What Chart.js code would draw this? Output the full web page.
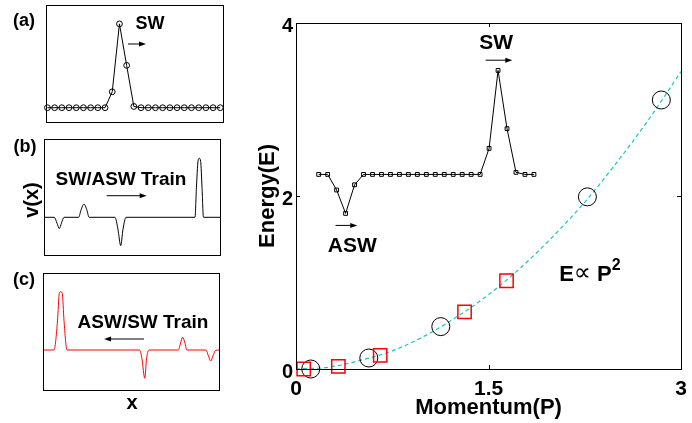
<!DOCTYPE html>
<html>
<head>
<meta charset="utf-8">
<script src="https://cdn.jsdelivr.net/npm/chart.js@4.4.1/dist/chart.umd.min.js"></script>
<style>
  html, body { margin: 0; padding: 0; background: #fff; }
  body { width: 692px; height: 423px; position: relative; overflow: hidden; }
  canvas { position: absolute; }
</style>
</head>
<body>
<canvas id="pa" style="left:0;top:0" width="230" height="130"></canvas>
<canvas id="pb" style="left:0;top:130px" width="230" height="132"></canvas>
<canvas id="pc" style="left:0;top:262px" width="230" height="161"></canvas>
<canvas id="main" style="left:250px;top:0" width="442" height="423"></canvas>
<script>
// ---- data ----

// (a) single SW on the lattice (site index, normalised amplitude)
const sitesA = [0, 1, 2, 3, 4, 5, 6, 7, 8, 9, 10, 11, 12, 13, 14, 15, 16, 17, 18, 19, 20, 21, 22, 23, 24];
const ampA = [0, 0, 0, 0, 0, 0, 0, 0, 0, 0.19, 1.0, 0.505, 0.015, 0, 0, 0, 0, 0, 0, 0, 0, 0, 0, 0, 0];

// (b) SW/ASW train, v(x)
const xB = [0, 5.85, 7.4, 8.7, 9.9, 11.4, 19.7, 21.0, 22.7, 24.4, 25.6, 40.3, 42.0, 43.6, 44.9, 46.6,
            85.8, 86.6, 87.5, 88.2, 89.0, 89.8, 90.6, 100];
const vB = [0, 0, -0.1, -0.19, -0.1, 0, 0, 0.12, 0.225, 0.12, 0, 0, -0.2, -0.48, -0.2, 0,
            0, 0.5, 0.95, 1.0, 0.95, 0.5, 0, 0];

// (c) ASW/SW train, v(x)
const xC = [0, 6.4, 8.4, 9.4, 10.3, 11.1, 12.1, 13.8, 54.9, 56.3, 57.9, 58.9, 60.3,
            77.0, 78.2, 79.4, 80.7, 81.8, 92.6, 94.0, 95.3, 96.6, 98.0, 100];
const vC = [0, 0, 0.5, 0.97, 1.0, 0.97, 0.5, 0, 0, -0.15, -0.485, -0.15, 0,
            0, 0.12, 0.218, 0.12, 0, 0, -0.1, -0.19, -0.1, -0.01, 0];

// main panel: energy vs momentum
const circleP = [0.115, 0.567, 1.128, 2.27, 2.846];
const circleE = [0.0, 0.127, 0.49, 1.99, 3.11];
const squareP = [0.06, 0.33, 0.656, 1.313, 1.64];
const squareE = [0.0, 0.03, 0.157, 0.66, 1.02];
// dashed E ~ P^2 guide
const fitP = [0, 0.25, 0.5, 0.75, 1, 1.25, 1.5, 1.75, 2, 2.25, 2.5, 2.75, 3];
const fitE = [0, 0.02, 0.1, 0.21, 0.38, 0.6, 0.86, 1.17, 1.53, 1.93, 2.39, 2.89, 3.44];
// inset lattice profile (ASW + SW)
const sitesInset = [0, 1, 2, 3, 4, 5, 6, 7, 8, 9, 10, 11, 12, 13, 14, 15, 16, 17, 18, 19, 20, 21, 22, 23, 24];
const ampInset = [0, 0, -0.15, -0.375, -0.1, 0, 0, 0, 0, 0, 0, 0, 0, 0, 0, 0, 0, 0, 0, 0.25, 1.0, 0.44, 0.02, 0, 0];

const momentumTicks = [0, 1.5, 3];
const energyTicks = [0, 2, 4];

// ---- helpers ----
const FONT = "'Liberation Sans', Arial, Helvetica, sans-serif";
const pts = (xs, ys) => xs.map((x, i) => ({ x: x, y: ys[i] }));

function arrow(ctx, x1, y1, x2, y2) {
  const dir = Math.sign(x2 - x1);
  ctx.save();
  ctx.strokeStyle = '#000';
  ctx.fillStyle = '#000';
  ctx.lineWidth = 1;
  ctx.beginPath();
  ctx.moveTo(x1, y1);
  ctx.lineTo(x2 - dir * 5, y2);
  ctx.stroke();
  ctx.beginPath();
  ctx.moveTo(x2, y2);
  ctx.lineTo(x2 - dir * 7, y2 - 2.5);
  ctx.lineTo(x2 - dir * 7, y2 + 2.5);
  ctx.closePath();
  ctx.fill();
  ctx.restore();
}

function text(ctx, str, x, y, size, rot) {
  ctx.save();
  ctx.fillStyle = '#000';
  ctx.font = 'bold ' + size + 'px ' + FONT;
  ctx.textAlign = 'center';
  ctx.textBaseline = 'middle';
  ctx.translate(x, y);
  if (rot) ctx.rotate(rot);
  ctx.fillText(str, 0, 0);
  ctx.restore();
}

function boxPlugin(extra) {
  return {
    id: 'box',
    afterDraw(chart) {
      const { ctx, chartArea: a } = chart;
      ctx.save();
      ctx.strokeStyle = '#000';
      ctx.lineWidth = 1;
      ctx.strokeRect(Math.round(a.left) + 0.5, Math.round(a.top) + 0.5,
                     Math.round(a.right - a.left), Math.round(a.bottom - a.top));
      ctx.restore();
      extra(chart);
    }
  };
}

function profileChart(id, pad, xr, yr, dataset, extra) {
  return new Chart(document.getElementById(id), {
    type: 'line',
    data: { datasets: [dataset] },
    options: {
      responsive: false,
      animation: false,
      events: [],
      layout: { padding: pad },
      plugins: { legend: { display: false }, tooltip: { enabled: false } },
      scales: {
        x: { type: 'linear', display: false, min: xr[0], max: xr[1] },
        y: { type: 'linear', display: false, min: yr[0], max: yr[1] }
      }
    },
    plugins: [boxPlugin(extra)]
  });
}

// ---- (a) ----
profileChart('pa', { left: 45.7, right: 7.7, top: 4.7, bottom: 7.7 }, [-0.24, 24.28], [-0.174, 1.225], {
  data: pts(sitesA, ampA),
  borderColor: '#000', borderWidth: 1, tension: 0, clip: false,
  pointStyle: 'circle', pointRadius: 2.9, pointBorderColor: '#000',
  pointBackgroundColor: 'rgba(0,0,0,0)', pointBorderWidth: 1
}, chart => {
  const { ctx, scales: { x, y } } = chart;
  text(ctx, '(a)', 24, 21, 18);
  text(ctx, 'SW', x.getPixelForValue(14.25), y.getPixelForValue(1.0), 18);
  arrow(ctx, x.getPixelForValue(11.19), y.getPixelForValue(0.76), x.getPixelForValue(13.69), y.getPixelForValue(0.76));
});

// ---- (b) ----
profileChart('pb', { left: 44, right: 10, top: 9.3, bottom: 7 }, [0, 100], [-0.639, 1.322], {
  data: pts(xB, vB),
  borderColor: '#000', borderWidth: 1, cubicInterpolationMode: 'monotone',
  pointRadius: 0
}, chart => {
  const { ctx, scales: { x, y } } = chart;
  text(ctx, '(b)', 25, 17, 18);
  text(ctx, 'v(x)', 32.5, 70, 20, -Math.PI / 2);
  text(ctx, 'SW/ASW Train', x.getPixelForValue(43.75), y.getPixelForValue(0.632), 19);
  arrow(ctx, x.getPixelForValue(35.6), y.getPixelForValue(0.366), x.getPixelForValue(58.35), y.getPixelForValue(0.366));
});

// ---- (c) ----
profileChart('pc', { left: 42.7, right: 11, top: 10.7, bottom: 33.7 }, [0, 100], [-0.674, 1.326], {
  data: pts(xC, vC),
  borderColor: '#ff0000', borderWidth: 1, cubicInterpolationMode: 'monotone',
  pointRadius: 0
}, chart => {
  const { ctx, scales: { x, y } } = chart;
  text(ctx, '(c)', 24, 18.5, 18);
  text(ctx, 'ASW/SW Train', x.getPixelForValue(56.9), y.getPixelForValue(0.468), 19);
  arrow(ctx, x.getPixelForValue(57.46), y.getPixelForValue(0.189), x.getPixelForValue(34.8), y.getPixelForValue(0.189));
  text(ctx, 'x', 132, 141, 20);
});

// ---- main panel ----
const tickFont = size => ({ family: FONT, size: size, weight: 'bold' });

new Chart(document.getElementById('main'), {
  type: 'line',
  data: {
    datasets: [
      {
        data: pts(squareP, squareE), showLine: false, clip: false,
        pointStyle: 'rect', pointRadius: 9.4, pointBorderColor: '#ff0000',
        pointBackgroundColor: 'rgba(0,0,0,0)', pointBorderWidth: 1.5
      },
      {
        data: pts(circleP, circleE), showLine: false, clip: false,
        pointStyle: 'circle', pointRadius: 9, pointBorderColor: '#000',
        pointBackgroundColor: 'rgba(0,0,0,0)', pointBorderWidth: 1
      },
      {
        data: pts(fitP, fitE), borderColor: '#1cc4c4', borderWidth: 1.2,
        borderDash: [4, 3], cubicInterpolationMode: 'monotone', pointRadius: 0
      },
      {
        data: pts(sitesInset, ampInset), xAxisID: 'xi', yAxisID: 'yi',
        borderColor: '#000', borderWidth: 1, tension: 0,
        pointStyle: 'rect', pointRadius: 2.7, pointBorderColor: '#000',
        pointBackgroundColor: 'rgba(0,0,0,0)', pointBorderWidth: 1
      }
    ]
  },
  options: {
    responsive: false,
    animation: false,
    events: [],
    layout: { padding: { left: 0, right: 6, top: 23, bottom: 0 } },
    plugins: { legend: { display: false }, tooltip: { enabled: false } },
    scales: {
      x: {
        type: 'linear', min: 0, max: 3,
        afterBuildTicks: s => { s.ticks = momentumTicks.map(v => ({ value: v })); },
        afterFit: s => { s.height = 54; s.paddingLeft = 0; s.paddingRight = 0; },
        grid: { display: false, drawTicks: false },
        border: { display: false },
        ticks: { padding: 8, color: '#000', font: tickFont(21), maxRotation: 0, callback: v => String(v) },
        title: { display: true, text: 'Momentum(P)', color: '#000', font: tickFont(22), padding: { top: 0, bottom: 2 } }
      },
      y: {
        type: 'linear', min: 0, max: 4,
        afterBuildTicks: s => { s.ticks = energyTicks.map(v => ({ value: v })); },
        afterFit: s => { s.width = 46; },
        grid: { display: false, drawTicks: false },
        border: { display: false },
        ticks: { padding: 3, labelOffset: 3, color: '#000', font: tickFont(20), callback: v => String(v) },
        title: { display: true, text: 'Energy(E)', color: '#000', font: tickFont(22), padding: { top: 5, bottom: 0 } }
      },
      xi: { type: 'linear', display: false, min: -2.53, max: 40.41 },
      yi: { type: 'linear', display: false, min: -1.871, max: 1.456, position: 'left' }
    }
  },
  plugins: [boxPlugin(chart => {
    const { ctx, chartArea: a, scales: { x, y } } = chart;
    // inward tick marks on all four sides
    ctx.save();
    ctx.strokeStyle = '#000';
    ctx.lineWidth = 1;
    ctx.beginPath();
    momentumTicks.forEach(v => {
      const px = Math.round(x.getPixelForValue(v)) + 0.5;
      ctx.moveTo(px, a.bottom); ctx.lineTo(px, a.bottom - 4);
      ctx.moveTo(px, a.top); ctx.lineTo(px, a.top + 4);
    });
    energyTicks.forEach(v => {
      const py = Math.round(y.getPixelForValue(v)) + 0.5;
      ctx.moveTo(a.left, py); ctx.lineTo(a.left + 4, py);
      ctx.moveTo(a.right, py); ctx.lineTo(a.right - 4, py);
    });
    ctx.stroke();
    ctx.restore();

    text(ctx, 'SW', x.getPixelForValue(1.56), y.getPixelForValue(3.77), 21);
    arrow(ctx, x.getPixelForValue(1.477), y.getPixelForValue(3.57), x.getPixelForValue(1.685), y.getPixelForValue(3.57));
    text(ctx, 'ASW', x.getPixelForValue(0.438), y.getPixelForValue(1.414), 21);
    arrow(ctx, x.getPixelForValue(0.308), y.getPixelForValue(1.66), x.getPixelForValue(0.477), y.getPixelForValue(1.66));

    // E ∝ P^2 label
    ctx.save();
    ctx.fillStyle = '#000';
    ctx.textBaseline = 'alphabetic';
    ctx.textAlign = 'left';
    let cx = x.getPixelForValue(2.05);
    const base = y.getPixelForValue(1.02);
    ctx.font = 'bold 22px ' + FONT;
    ctx.fillText('E', cx, base);
    cx += ctx.measureText('E').width;
    ctx.font = '24px "DejaVu Sans", sans-serif';
    ctx.fillText('\u221D', cx, base - 1);
    cx += ctx.measureText('\u221D').width;
    ctx.font = 'bold 22px ' + FONT;
    cx += ctx.measureText(' ').width;
    ctx.fillText('P', cx, base);
    cx += ctx.measureText('P').width;
    ctx.font = 'bold 16px ' + FONT;
    ctx.fillText('2', cx, base - 11);
    ctx.restore();
  })]
});
</script>
</body>
</html>
